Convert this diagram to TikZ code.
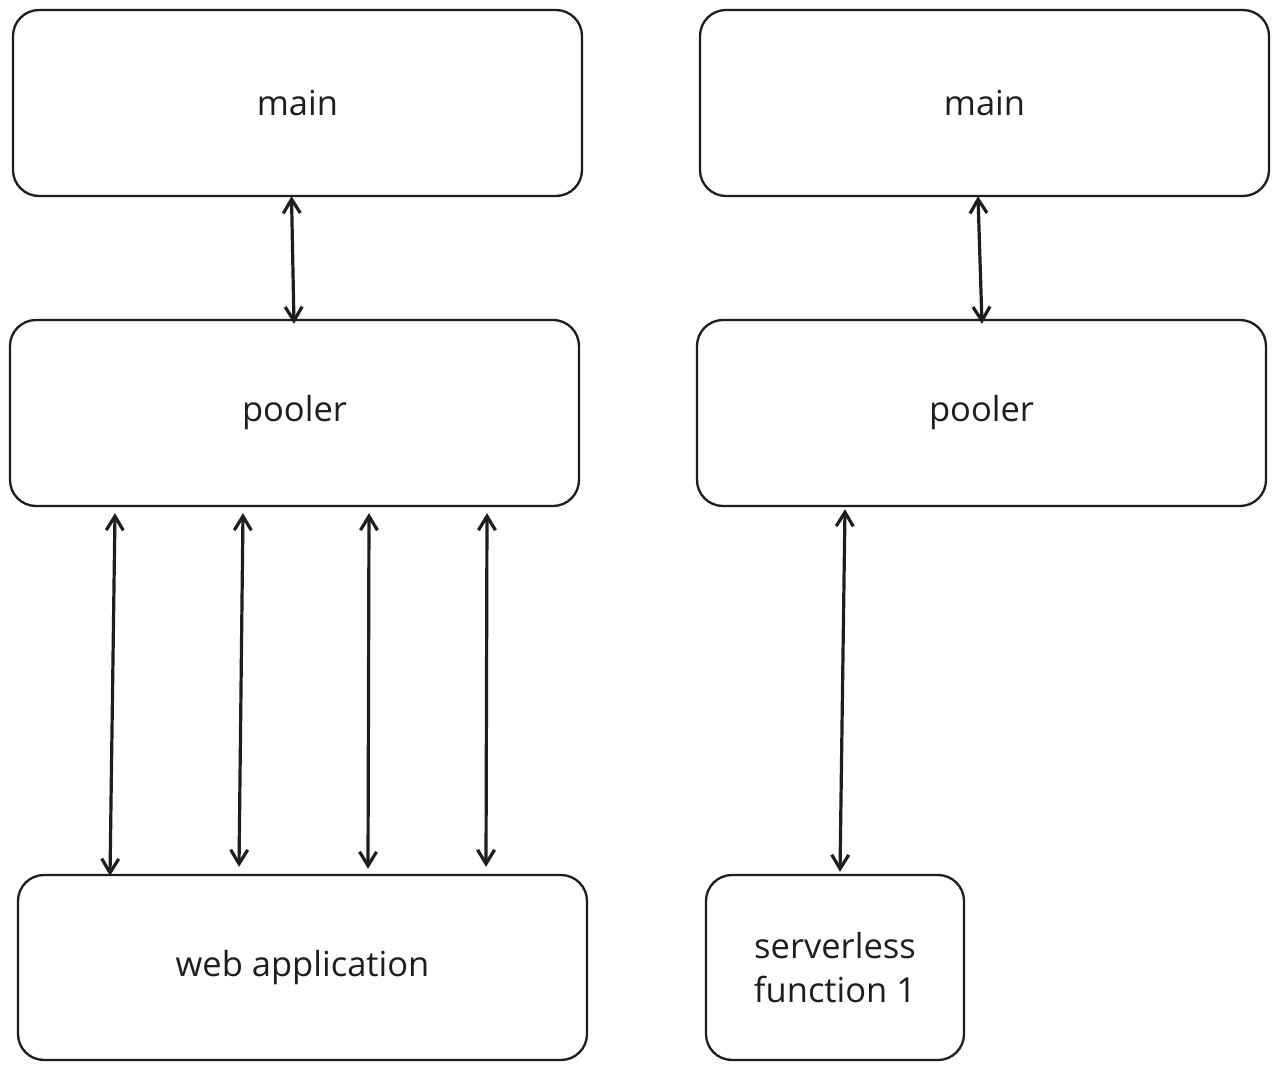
\documentclass[tikz,border=0pt]{standalone}
\usepackage{fontspec}
\setmainfont{Open Sans}
\usetikzlibrary{arrows.meta}
\definecolor{ink}{HTML}{1E1E1E}
\begin{document}
\begin{tikzpicture}[x=1pt,y=-1pt,
  box/.style={draw=ink, line width=2.3pt, rounded corners=26pt, inner sep=0pt,
    font=\fontsize{34.5}{44}\selectfont, text=ink, align=center},
  conn/.style={draw=ink, line width=3.2pt,
    {Straight Barb[length=14pt,width=17pt]}-{Straight Barb[length=14pt,width=17pt]}}]
\useasboundingbox[fill=white] (0,0) rectangle (1278,1070);
% left column
\node[box, minimum width=569pt, minimum height=186pt] (main1) at (297.5,103) {main};
\node[box, minimum width=569pt, minimum height=186pt] (pool1) at (294.5,413) {pooler};
\node[box, minimum width=569pt, minimum height=185pt] (web) at (302.5,967.5) {web application};
% right column
\node[box, minimum width=569pt, minimum height=186pt] (main2) at (984.5,103) {main};
\node[box, minimum width=569pt, minimum height=186pt] (pool2) at (981.5,413) {pooler};
\node[box, minimum width=258pt, minimum height=185pt] (sf) at (835,967.5) {serverless\\function 1};
% connectors
\draw[conn] ([xshift=-6pt,yshift=1pt]main1.south) -- ([xshift=-0.5pt,yshift=-5pt]pool1.north);
\draw[conn] ([xshift=-179.5pt,yshift=-6pt]pool1.south) -- ([xshift=-192.5pt,yshift=-2pt]web.north);
\draw[conn] ([xshift=-51.5pt,yshift=-6pt]pool1.south) -- ([xshift=-63.5pt,yshift=7pt]web.north);
\draw[conn] ([xshift=74.5pt,yshift=-6pt]pool1.south) -- ([xshift=65.5pt,yshift=5pt]web.north);
\draw[conn] ([xshift=192.5pt,yshift=-6pt]pool1.south) -- ([xshift=183.5pt,yshift=7pt]web.north);
\draw[conn] ([xshift=-6.5pt,yshift=1pt]main2.south) -- ([xshift=0.5pt,yshift=-5pt]pool2.north);
\draw[conn] ([xshift=-136.5pt,yshift=-2pt]pool2.south) -- ([xshift=5pt,yshift=2pt]sf.north);
\end{tikzpicture}
\end{document}
